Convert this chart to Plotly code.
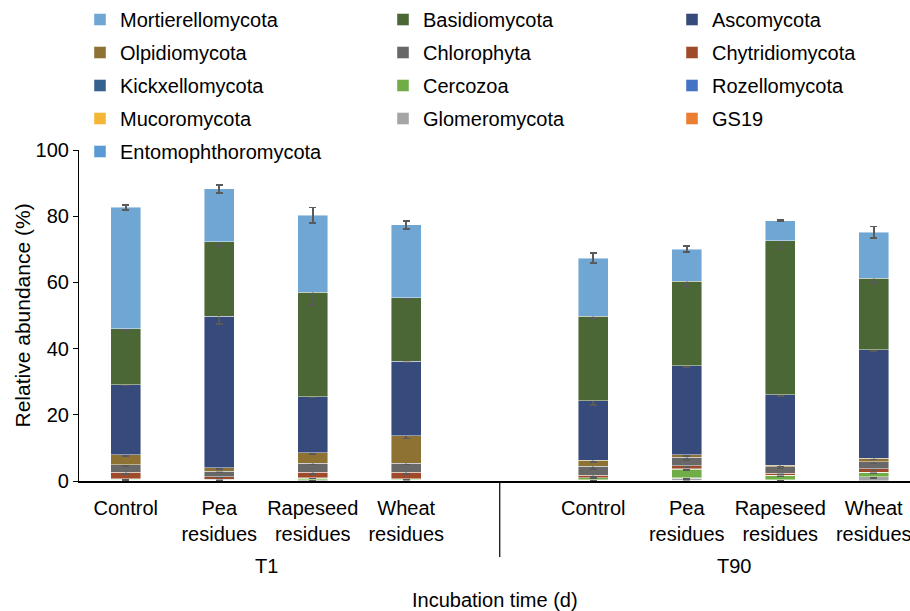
import plotly.graph_objects as go

# ---------------- data ----------------
samples = ["Control", "Pea<br>residues", "Rapeseed<br>residues", "Wheat<br>residues",
           "Control", "Pea<br>residues", "Rapeseed<br>residues", "Wheat<br>residues"]
groups = ["T1", "T90"]

series_names = ["Mortierellomycota", "Basidiomycota", "Ascomycota", "Olpidiomycota",
                "Chlorophyta", "Chytridiomycota", "Kickxellomycota", "Cercozoa",
                "Rozellomycota", "Mucoromycota", "Glomeromycota", "GS19",
                "Entomophthoromycota"]

mortierellomycota = [36.7, 16.0, 23.3, 22.1, 17.6, 9.7, 6.0, 14.0]
basidiomycota = [16.9, 22.5, 31.5, 19.1, 25.5, 25.5, 46.5, 21.5]
ascomycota = [21.1, 45.8, 17.0, 22.5, 17.9, 26.9, 21.4, 32.8]
olpidiomycota = [3.1, 1.0, 3.2, 8.4, 1.9, 0.8, 0.4, 1.1]
chlorophyta = [2.2, 1.65, 2.6, 2.6, 2.65, 2.5, 1.9, 2.1]
chytridiomycota = [1.95, 0.75, 1.7, 1.95, 0.8, 1.0, 0.65, 1.0]
kickxellomycota = [0.2, 0.15, 0.2, 0.2, 0.05, 0.1, 0.05, 0.05]
cercozoa = [0.2, 0.15, 0.35, 0.25, 0.6, 2.55, 1.4, 1.35]
rozellomycota = [0.05, 0.05, 0.05, 0.05, 0.05, 0.1, 0.05, 0.05]
mucoromycota = [0.05, 0.05, 0.05, 0.03, 0.02, 0.05, 0.02, 0.03]
glomeromycota = [0.2, 0.15, 0.3, 0.17, 0.2, 0.6, 0.2, 1.1]
gs19 = [0.02, 0.02, 0.02, 0.02, 0.02, 0.02, 0.02, 0.02]
entomophthoromycota = [0.03, 0.03, 0.03, 0.03, 0.02, 0.25, 0.02, 0.1]

mortierellomycota_err = [0.75, 1.2, 2.3, 1.2, 1.5, 0.9, 0.2, 1.7]
basidiomycota_err = [0.3, 1.3, 3.9, 0.3, 0.5, 1.4, 2.4, 1.4]
ascomycota_err = [0.3, 2.4, 0.3, 0.3, 1.3, 0.5, 0.4, 0.4]
olpidiomycota_err = [0.4, 0.3, 0.4, 0.9, 0.5, 0.5, 0.3, 0.4]
chlorophyta_err = [0.3, 0.3, 0.3, 0.3, 0.8, 0.8, 0.5, 0.5]
chytridiomycota_err = [0.6, 0.3, 0.5, 0.6, 0.5, 0.5, 0.3, 0.5]
kickxellomycota_err = [0.1, 0.1, 0.1, 0.1, 0.05, 0.1, 0.05, 0.05]
cercozoa_err = [0.1, 0.1, 0.1, 0.1, 0.2, 0.3, 0.3, 0.3]
rozellomycota_err = [0.05] * 8
mucoromycota_err = [0.02] * 8
glomeromycota_err = [0.1, 0.1, 0.1, 0.1, 0.1, 0.3, 0.1, 0.3]
gs19_err = [0.01] * 8
entomophthoromycota_err = [0.02] * 8

values = [mortierellomycota, basidiomycota, ascomycota, olpidiomycota, chlorophyta,
          chytridiomycota, kickxellomycota, cercozoa, rozellomycota, mucoromycota,
          glomeromycota, gs19, entomophthoromycota]
errors = [mortierellomycota_err, basidiomycota_err, ascomycota_err, olpidiomycota_err,
          chlorophyta_err, chytridiomycota_err, kickxellomycota_err, cercozoa_err,
          rozellomycota_err, mucoromycota_err, glomeromycota_err, gs19_err,
          entomophthoromycota_err]
colors = ["#70a6d3", "#4b6736", "#364a7b", "#8e7233", "#686868", "#9e4a2b",
          "#35618f", "#70ad47", "#4472c4", "#f4b634", "#a5a5a5", "#ed7d31", "#5b9bd5"]

# x positions: 4 samples per group, one empty slot between groups
x_pos = [i + (1 if i >= 4 else 0) for i in range(len(samples))]

FONT = "Liberation Sans, Arial, sans-serif"
W, H = 910, 611
ML, MR, MT, MB = 79, 0, 150, 130
slot_px = 93.5
xr0 = -0.5
xr1 = xr0 + (W - ML - MR) / slot_px
legend_ids = ["legend", "legend2", "legend3"]

fig = go.Figure()
# stacked from bottom (last in legend) to top (first in legend)
for k in reversed(range(len(series_names))):
    fig.add_trace(go.Bar(
        name=series_names[k], x=x_pos, y=values[k],
        legend=legend_ids[k % 3], legendgroup=series_names[k], legendrank=k + 1,
        marker=dict(color=colors[k], line=dict(color="rgba(255,255,255,0.55)", width=0.8)),
        error_y=dict(type="data", array=errors[k], visible=True, color="#5a5a5a",
                     thickness=1.6, width=3.5),
    ))

def xpaper(v):
    return (v - xr0) / (xr1 - xr0)

plot_h = H - MT - MB
def ypaper_from_px(py):
    return (H - MB - py) / plot_h

annotations = []
for g, idxs in zip(groups, [range(0, 4), range(4, 8)]):
    xs = [x_pos[i] for i in idxs]
    annotations.append(dict(text=g, x=sum(xs) / len(xs), xref="x",
                            y=ypaper_from_px(566), yref="paper", showarrow=False,
                            xanchor="center", yanchor="middle",
                            font=dict(family=FONT, size=20, color="#000")))
annotations.append(dict(text="Incubation time (d)", x=0.5, xref="paper",
                        y=ypaper_from_px(600), yref="paper", showarrow=False,
                        xanchor="center", yanchor="middle",
                        font=dict(family=FONT, size=20, color="#000")))
annotations.append(dict(text="Relative abundance (%)", textangle=-90,
                        x=(22 - ML) / (W - ML - MR), xref="paper",
                        y=0.5, yref="paper", showarrow=False,
                        xanchor="center", yanchor="middle",
                        font=dict(family=FONT, size=21, color="#000")))

divider_x = (x_pos[3] + x_pos[4]) / 2
shapes = [dict(type="line", xref="paper", yref="paper",
               x0=xpaper(divider_x), x1=xpaper(divider_x),
               y0=0, y1=ypaper_from_px(557),
               line=dict(color="#000", width=1.2))]

def legend_cfg(text_x):
    return dict(orientation="v", traceorder="grouped", tracegroupgap=4,
                xref="container", yref="container",
                x=(text_x - 40) / W, y=1.0, xanchor="left", yanchor="top",
                font=dict(family=FONT, size=20, color="#000"),
                bgcolor="rgba(0,0,0,0)", itemclick=False, itemdoubleclick=False)

fig.update_layout(
    width=W, height=H, autosize=False,
    margin=dict(l=ML, r=MR, t=MT, b=MB, pad=0, autoexpand=False),
    paper_bgcolor="white", plot_bgcolor="white",
    barmode="stack", bargap=0.68,
    font=dict(family=FONT, size=20, color="#000"),
    xaxis=dict(range=[xr0, xr1], tickvals=x_pos, ticktext=samples,
               showline=True, linecolor="#000", linewidth=1.5, ticks="",
               showgrid=False, zeroline=False, automargin=False,
               ticklabeloverflow="allow",
               tickfont=dict(family=FONT, size=20, color="#000"),
               ticklabelstandoff=8),
    yaxis=dict(range=[0, 100], tickvals=[0, 20, 40, 60, 80, 100],
               showline=True, linecolor="#000", linewidth=1.2,
               ticks="outside", ticklen=5, tickcolor="#000", tickwidth=1,
               showgrid=False, zeroline=False, automargin=False,
               tickfont=dict(family=FONT, size=20, color="#000")),
    legend=legend_cfg(120),
    legend2=legend_cfg(423),
    legend3=legend_cfg(712),
    annotations=annotations,
    shapes=shapes,
)

fig.write_html("out.html", config={"displayModeBar": False},
               post_script="document.body.style.margin='0';document.body.style.overflow='hidden';")
